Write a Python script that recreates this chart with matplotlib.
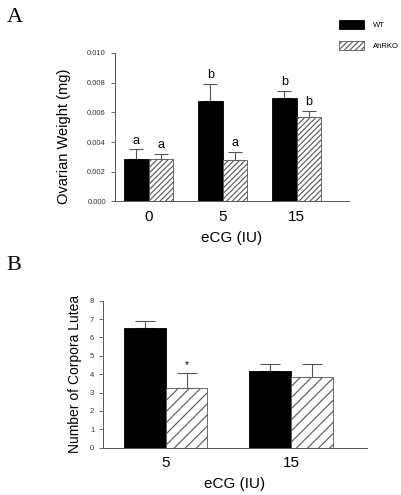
import matplotlib
matplotlib.use("Agg")
import matplotlib.pyplot as plt
import numpy as np

plt.rcParams['font.family'] = ['Liberation Sans', 'DejaVu Sans']
plt.rcParams['hatch.linewidth'] = 0.8

# Panel A: ovarian weight
doses_a = ["0", "5", "15"]
wt_a = [0.00289, 0.00677, 0.00697]
wt_a_err = [0.00061, 0.00117, 0.00047]
ko_a = [0.00283, 0.00278, 0.00572]
ko_a_err = [0.00037, 0.00058, 0.00038]
wt_a_marks = ["a", "b", "b"]
ko_a_marks = ["a", "a", "b"]

# Panel B: corpora lutea
doses_b = ["5", "15"]
wt_b = [6.53, 4.19]
wt_b_err = [0.38, 0.35]
ko_b = [3.23, 3.86]
ko_b_err = [0.82, 0.68]
ko_b_marks = ["*", ""]

EDGE = "#555555"


def grouped_bars(ax, labels, wt, wt_err, ko, ko_err, hatch, capsize,
                 wt_marks=None, ko_marks=None, mark_size=9):
    x = np.arange(len(labels))
    w = 0.333
    ax.bar(x - w / 2, wt, w, color="black", edgecolor="black", linewidth=0.6,
           label="WT", zorder=2)
    ax.bar(x + w / 2, ko, w, color="white", edgecolor=EDGE, linewidth=0.6,
           hatch=hatch, label="AhRKO", zorder=2)
    for xs, vals, errs in ((x - w / 2, wt, wt_err), (x + w / 2, ko, ko_err)):
        ax.errorbar(xs, vals, yerr=[np.zeros(len(vals)), errs], fmt="none",
                    ecolor=EDGE, elinewidth=0.8, capsize=capsize,
                    capthick=0.8, zorder=1)
    for marks, xs, vals, errs in ((wt_marks, x - w / 2, wt, wt_err),
                                  (ko_marks, x + w / 2, ko, ko_err)):
        if not marks:
            continue
        for m, xi, v, e in zip(marks, xs, vals, errs):
            if m:
                ax.annotate(m, (xi, v + e), xytext=(0, 2),
                            textcoords="offset points", ha="center",
                            va="bottom", fontsize=mark_size)
    ax.set_xticks(x)
    ax.set_xticklabels(labels, fontsize=11)
    ax.tick_params(axis="x", length=0, pad=6)
    ax.tick_params(axis="y", labelsize=5.5, length=3, width=0.6, colors=EDGE,
                   labelcolor="#333333")
    for s in ("top", "right"):
        ax.spines[s].set_visible(False)
    for s in ("left", "bottom"):
        ax.spines[s].set_color(EDGE)
        ax.spines[s].set_linewidth(0.7)
    ax.set_xlabel("eCG (IU)", fontsize=11, labelpad=5)
    return x


fig = plt.figure(figsize=(4.02, 4.95), dpi=100)

axA = fig.add_axes([0.286, 0.593, 0.582, 0.300])
grouped_bars(axA, doses_a, wt_a, wt_a_err, ko_a, ko_a_err, "//////", 4.7,
             wt_a_marks, ko_a_marks)
axA.set_ylim(0, 0.010)
axA.set_xlim(-0.455, 2.707)
axA.set_yticks(np.arange(0, 0.0101, 0.002))
axA.set_yticklabels([f"{v:.3f}" for v in np.arange(0, 0.0101, 0.002)])
axA.set_ylabel("Ovarian Weight (mg)", fontsize=10.5)
axA.yaxis.set_label_coords(-0.188, 0.44)
axA.legend(loc="upper left", bbox_to_anchor=(0.93, 1.27), frameon=False,
           fontsize=5.5, handlelength=3.2, handleheight=1.4, labelspacing=1.6,
           handletextpad=1.2)

axB = fig.add_axes([0.257, 0.0956, 0.655, 0.297])
grouped_bars(axB, doses_b, wt_b, wt_b_err, ko_b, ko_b_err, "///", 7.4,
             None, ko_b_marks, mark_size=7)
axB.set_ylim(0, 8)
axB.set_xlim(-0.498, 1.604)
axB.set_yticks(range(0, 9))
axB.set_ylabel("Number of Corpora Lutea", fontsize=10, labelpad=6)

fig.text(0.017, 0.955, "A", fontsize=16, family="Liberation Serif")
fig.text(0.017, 0.455, "B", fontsize=16, family="Liberation Serif")

fig.savefig("out.png", dpi=100)
